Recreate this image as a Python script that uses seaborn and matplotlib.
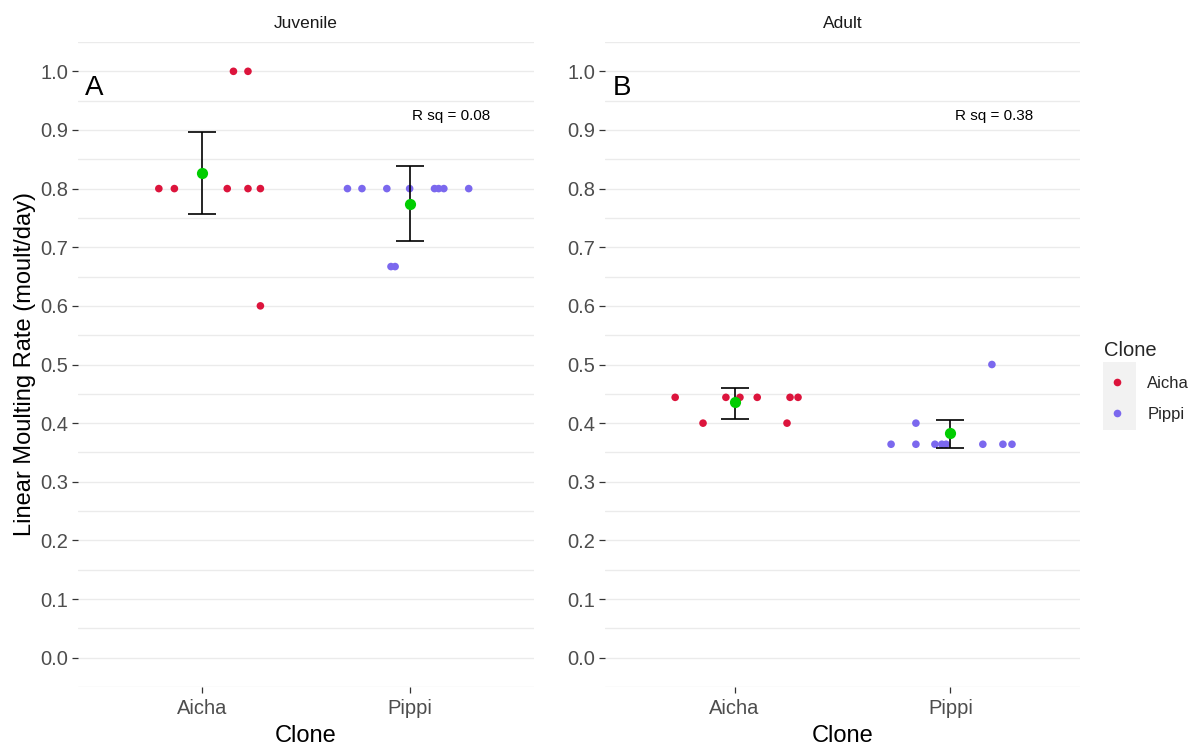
import numpy as np
import pandas as pd
import matplotlib
matplotlib.use("Agg")
import matplotlib.pyplot as plt
from matplotlib.lines import Line2D
from matplotlib.patches import Rectangle
from matplotlib.ticker import MultipleLocator, FormatStrFormatter
import seaborn as sns

# ---- data -------------------------------------------------------------
stages = ["Juvenile", "Adult"]
clones = ["Aicha", "Pippi"]
panel_tags = ["A", "B"]
r_squared = [0.08, 0.38]

# individual moulting rates (moult/day) and their horizontal jitter
juv_aicha = [0.8, 0.8, 0.8, 0.8, 0.8, 1.0, 1.0, 0.6]
juv_aicha_jit = [-0.21, -0.135, 0.12, 0.22, 0.28, 0.15, 0.22, 0.28]
juv_pippi = [0.8, 0.8, 0.8, 0.8, 0.8, 0.8, 0.8, 0.8, 0.667, 0.667]
juv_pippi_jit = [-0.30, -0.23, -0.11, 0.0, 0.12, 0.14, 0.165, 0.285, -0.09, -0.07]

adult_aicha = [0.444, 0.444, 0.444, 0.444, 0.444, 0.444, 0.4, 0.4]
adult_aicha_jit = [-0.275, -0.04, 0.025, 0.105, 0.257, 0.294, -0.146, 0.243]
adult_pippi = [0.364, 0.364, 0.364, 0.364, 0.364, 0.364, 0.364, 0.364, 0.4, 0.5]
adult_pippi_jit = [-0.275, -0.16, -0.072, -0.04, -0.02, 0.15, 0.243, 0.285, -0.16, 0.192]

# group means with error-bar limits, per stage: [Aicha, Pippi]
juv_mean = [0.826, 0.773]
juv_lower = [0.756, 0.710]
juv_upper = [0.896, 0.838]
adult_mean = [0.436, 0.383]
adult_lower = [0.407, 0.358]
adult_upper = [0.460, 0.405]

# ---- tidy tables --------------------------------------------------------
def points_frame(stage, a_vals, a_jit, p_vals, p_jit):
    rows = []
    for clone, vals, jit in (("Aicha", a_vals, a_jit), ("Pippi", p_vals, p_jit)):
        base = clones.index(clone)
        for v, j in zip(vals, jit):
            rows.append({"Stage": stage, "Clone": clone, "Rate": v, "x": base + j})
    return pd.DataFrame(rows)

points = pd.concat([
    points_frame("Juvenile", juv_aicha, juv_aicha_jit, juv_pippi, juv_pippi_jit),
    points_frame("Adult", adult_aicha, adult_aicha_jit, adult_pippi, adult_pippi_jit),
])
summary = pd.DataFrame({
    "Stage": ["Juvenile"] * 2 + ["Adult"] * 2,
    "Clone": clones * 2,
    "Mean": juv_mean + adult_mean,
    "Lower": juv_lower + adult_lower,
    "Upper": juv_upper + adult_upper,
})

# ---- styling --------------------------------------------------------------
sns.set_style("white")
plt.rcParams["font.family"] = ["Liberation Sans", "DejaVu Sans"]

palette = {"Aicha": "#DC143C", "Pippi": "#7B68EE"}
mean_color = "#00CD00"
grid_color = "#EBEBEB"
tick_color = "#4D4D4D"

fig = plt.figure(figsize=(11.99, 7.49), dpi=100)
panel_boxes = [
    [78 / 1199, 62 / 749, 456 / 1199, 645 / 749],
    [605 / 1199, 62 / 749, 475 / 1199, 645 / 749],
]

for i, stage in enumerate(stages):
    ax = fig.add_axes(panel_boxes[i])
    sub = points[points["Stage"] == stage]
    sns.scatterplot(data=sub, x="x", y="Rate", hue="Clone", palette=palette,
                    s=30, linewidth=0, legend=False, ax=ax, zorder=3)

    summ = summary[summary["Stage"] == stage]
    xs = [clones.index(c) for c in summ["Clone"]]
    ax.errorbar(xs, summ["Mean"],
                yerr=[summ["Mean"] - summ["Lower"], summ["Upper"] - summ["Mean"]],
                fmt="none", ecolor="black", elinewidth=1.2, capsize=10,
                capthick=1.2, zorder=4)
    sns.scatterplot(x=xs, y=summ["Mean"].to_numpy(), color=mean_color, s=65,
                    marker="o", linewidth=0, ax=ax, zorder=5)

    ax.set_xlim(-0.6, 1.6)
    ax.set_ylim(-0.05, 1.05)
    ax.set_xticks(range(len(clones)))
    ax.set_xticklabels(clones)
    ax.yaxis.set_major_locator(MultipleLocator(0.1))
    ax.yaxis.set_minor_locator(MultipleLocator(0.05))
    ax.yaxis.set_major_formatter(FormatStrFormatter("%.1f"))

    ax.grid(False)
    ax.grid(True, axis="y", which="both", color=grid_color, linewidth=1.0, zorder=0)
    ax.set_axisbelow(True)
    for s in ax.spines.values():
        s.set_visible(False)

    ax.tick_params(axis="both", which="major", bottom=True, left=True,
                   length=4, width=0.9, color="#333333",
                   labelcolor=tick_color, labelsize=14.5, pad=3)
    ax.tick_params(axis="x", which="major", pad=5)
    ax.tick_params(axis="y", which="minor", left=False, length=0)

    ax.set_xlabel("Clone", fontsize=17, color="black", labelpad=5)
    if i == 0:
        ax.set_ylabel("Linear Moulting Rate (moult/day)", fontsize=17,
                      color="black", labelpad=3)
    else:
        ax.set_ylabel("")

    ax.set_title(stage, fontsize=12.5, color="#1A1A1A", pad=10)
    ax.text(-0.52, 0.971, panel_tags[i], fontsize=20, ha="center", va="center",
            color="black")
    ax.text(1.2, 0.923, f"R sq = {r_squared[i]:.2f}", fontsize=11,
            ha="center", va="center", color="black")

# ---- legend -----------------------------------------------------------------
fig.patches.append(Rectangle((1103 / 1199, 1 - 430 / 749), 33 / 1199, 68 / 749,
                             transform=fig.transFigure, facecolor="#F2F2F2",
                             edgecolor="none", zorder=0))
handles = [Line2D([], [], marker="o", linestyle="none", markersize=5.5,
                  markerfacecolor=palette[c], markeredgewidth=0) for c in clones]
leg = fig.legend(handles, clones, title="Clone", loc="upper left",
                 bbox_to_anchor=(1089 / 1199, 1 - 326 / 749), frameon=False,
                 fontsize=12, title_fontsize=14.5, alignment="left",
                 handlelength=1.6, handletextpad=1.0, labelspacing=0.95)

fig.savefig("out.png", dpi=100)
